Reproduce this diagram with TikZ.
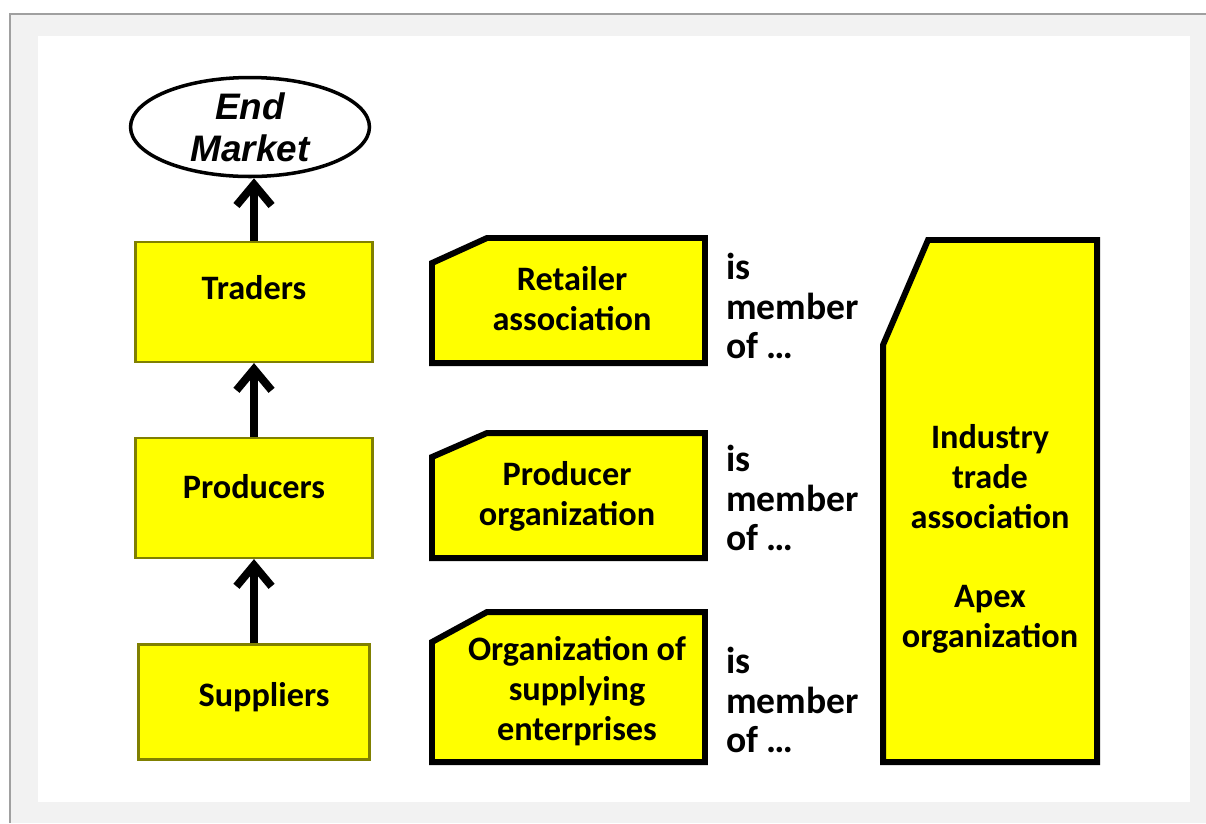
\documentclass[tikz,border=0pt]{standalone}
\usepackage{fontspec}
\setmainfont{Carlito}
\newfontfamily\arialfont{Liberation Sans}
\usetikzlibrary{shapes.geometric,arrows.meta}

\definecolor{boxyellow}{RGB}{255,255,0}
\definecolor{boxrim}{RGB}{128,128,0}
\definecolor{pagegrey}{RGB}{242,242,242}
\definecolor{rulegrey}{RGB}{160,160,160}

\begin{document}
\begin{tikzpicture}
		[
			x=0.02cm, y=-0.02cm,
			chain/.style = {rectangle, draw=boxrim, line width=1.2pt, fill=boxyellow, minimum width=4.74cm, minimum height=2.4cm, inner sep=0pt, font=\fontsize{19.5}{22}\selectfont\bfseries, text height=0.44cm},
			market/.style = {ellipse, draw=black, line width=2pt, fill=white, minimum width=4.78cm, minimum height=1.98cm, inner sep=0pt, align=center, font=\arialfont\fontsize{21}{23.8}\selectfont\bfseries\itshape},
			tag/.style = {draw=black, line width=3.4pt, fill=boxyellow},
			tagtext/.style = {align=center, font=\fontsize{19.5}{22.7}\selectfont\bfseries},
			member/.style = {anchor=west, align=left, font=\fontsize{21.4}{22.7}\selectfont\bfseries},
			flow/.style = {line width=4.5pt, -{Straight Barb[length=12pt,width=20pt]}},
		]

		% page and panel
		\useasboundingbox (0,0) rectangle (1206,823);
		\fill[white] (0,0) rectangle (1206,823);
		\fill[pagegrey] (10,14) rectangle (1206,823);
		\draw[rulegrey, line width=0.8pt] (10,823) -- (10,14) -- (1206,14);
		\fill[white] (38,36) rectangle (1190,802);

		% value chain
		\node[market] (market) 	at ( 250, 127 ) {End\\Market};
		\node[chain, text depth=0.56cm] (trad) 	at ( 254, 302 ) {Traders};
		\node[chain, text depth=0.44cm] (prod) 	at ( 254, 498 ) {Producers};
		\node[chain, text depth=0.26cm, minimum width=4.62cm, minimum height=2.3cm] (sup) 	at ( 254, 702 ) {\hspace{0.4cm}Suppliers};

		\draw[flow] (sup) -- (prod);
		\draw[flow] (prod) -- (trad);
		\draw[flow] (trad.north) -- (trad.north |- market.south);

		% associations
		\draw[tag] (432,263) -- (487,238) -- (705,238) -- (705,363) -- (432,363) -- cycle;
		\draw[tag] (432,457) -- (487,433) -- (705,433) -- (705,558) -- (432,558) -- cycle;
		\draw[tag] (432,642) -- (487,612) -- (705,612) -- (705,762) -- (432,762) -- cycle;
		\draw[tag] (883,345) -- (928,240) -- (1097,240) -- (1097,762) -- (883,762) -- cycle;

		\node[tagtext] (retail) 	at ( 572, 299 ) {Retailer\\association};
		\node[tagtext] (prodorg) 	at ( 567, 496 ) {Producer\\organization};
		\node[tagtext] (suporg) 	at ( 577, 691 ) {Organization of\\supplying\\enterprises};
		\node[tagtext] (apex) 	at ( 990, 539 ) {Industry\\trade\\association\\[22.7pt]Apex\\organization};

		\node[member] (retailof) 	at ( 720, 306 ) {is\\member\\of \dots};
		\node[member] (prodof) 	at ( 720, 498 ) {is\\member\\of \dots};
		\node[member] (suporgof) 	at ( 720, 700 ) {is\\member\\of \dots};

		\end{tikzpicture}
\end{document}
